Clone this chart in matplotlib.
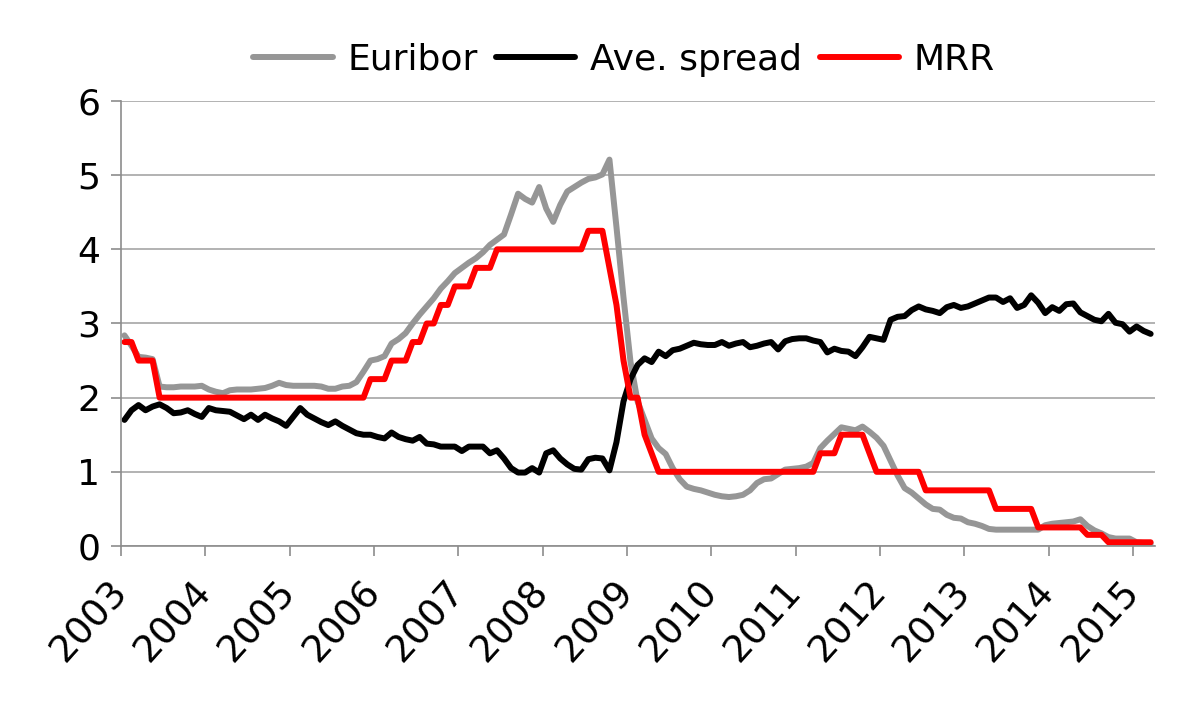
import numpy as np
import matplotlib
matplotlib.use("Agg")
import matplotlib.pyplot as plt
from matplotlib.transforms import ScaledTranslation

# monthly data, Jan 2003 .. Mar 2015
euribor = [
    2.84, 2.70, 2.55, 2.54, 2.52, 2.15, 2.14, 2.14, 2.15, 2.15, 2.15, 2.16,   # 2003
    2.11, 2.08, 2.06, 2.10, 2.11, 2.11, 2.11, 2.12, 2.13, 2.16, 2.20, 2.17,   # 2004
    2.16, 2.16, 2.16, 2.16, 2.15, 2.12, 2.12, 2.15, 2.16, 2.21, 2.35, 2.50,   # 2005
    2.52, 2.56, 2.73, 2.79, 2.87, 3.00, 3.12, 3.23, 3.34, 3.47, 3.57, 3.68,   # 2006
    3.75, 3.82, 3.88, 3.96, 4.06, 4.13, 4.20, 4.47, 4.75, 4.68, 4.63, 4.84,   # 2007
    4.55, 4.37, 4.60, 4.78, 4.84, 4.90, 4.95, 4.97, 5.01, 5.21, 4.30, 3.35,   # 2008
    2.48, 1.95, 1.70, 1.45, 1.32, 1.24, 1.05, 0.90, 0.80, 0.77, 0.75, 0.72,   # 2009
    0.69, 0.67, 0.66, 0.67, 0.69, 0.75, 0.85, 0.90, 0.91, 0.97, 1.03, 1.04,   # 2010
    1.05, 1.07, 1.12, 1.32, 1.42, 1.51, 1.60, 1.58, 1.56, 1.61, 1.54, 1.46,   # 2011
    1.35, 1.15, 0.95, 0.78, 0.72, 0.64, 0.56, 0.50, 0.49, 0.42, 0.38, 0.37,   # 2012
    0.32, 0.30, 0.27, 0.23, 0.22, 0.22, 0.22, 0.22, 0.22, 0.22, 0.22, 0.28,   # 2013
    0.30, 0.31, 0.32, 0.33, 0.36, 0.27, 0.21, 0.17, 0.12, 0.10, 0.10, 0.10,   # 2014
    0.05, 0.04, 0.03,                                                         # 2015
]
spread = [
    1.70, 1.83, 1.90, 1.83, 1.88, 1.91, 1.86, 1.79, 1.80, 1.83, 1.78, 1.74,
    1.86, 1.83, 1.82, 1.81, 1.76, 1.71, 1.77, 1.70, 1.77, 1.72, 1.68, 1.62,
    1.74, 1.86, 1.77, 1.72, 1.67, 1.63, 1.68, 1.62, 1.57, 1.52, 1.50, 1.50,
    1.47, 1.45, 1.53, 1.47, 1.44, 1.42, 1.47, 1.38, 1.37, 1.34, 1.34, 1.34,
    1.28, 1.34, 1.34, 1.34, 1.25, 1.29, 1.18, 1.05, 0.99, 0.99, 1.05, 0.99,
    1.25, 1.29, 1.18, 1.10, 1.04, 1.03, 1.17, 1.19, 1.18, 1.02, 1.40, 1.95,
    2.25, 2.44, 2.53, 2.48, 2.62, 2.56, 2.64, 2.66, 2.70, 2.74, 2.72, 2.71,
    2.71, 2.75, 2.70, 2.73, 2.75, 2.68, 2.70, 2.73, 2.75, 2.65, 2.76, 2.79,
    2.80, 2.80, 2.77, 2.75, 2.61, 2.66, 2.63, 2.62, 2.56, 2.68, 2.82, 2.80,
    2.78, 3.05, 3.09, 3.10, 3.18, 3.23, 3.19, 3.17, 3.14, 3.22, 3.25, 3.21,
    3.23, 3.27, 3.31, 3.35, 3.35, 3.29, 3.34, 3.21, 3.25, 3.38, 3.28, 3.14,
    3.22, 3.17, 3.26, 3.27, 3.15, 3.10, 3.05, 3.03, 3.13, 3.01, 2.99, 2.89,
    2.96, 2.90, 2.86,
]
mrr = [
    2.75, 2.75, 2.50, 2.50, 2.50, 2.00, 2.00, 2.00, 2.00, 2.00, 2.00, 2.00,
    2.00, 2.00, 2.00, 2.00, 2.00, 2.00, 2.00, 2.00, 2.00, 2.00, 2.00, 2.00,
    2.00, 2.00, 2.00, 2.00, 2.00, 2.00, 2.00, 2.00, 2.00, 2.00, 2.00, 2.25,
    2.25, 2.25, 2.50, 2.50, 2.50, 2.75, 2.75, 3.00, 3.00, 3.25, 3.25, 3.50,
    3.50, 3.50, 3.75, 3.75, 3.75, 4.00, 4.00, 4.00, 4.00, 4.00, 4.00, 4.00,
    4.00, 4.00, 4.00, 4.00, 4.00, 4.00, 4.25, 4.25, 4.25, 3.75, 3.25, 2.50,
    2.00, 2.00, 1.50, 1.25, 1.00, 1.00, 1.00, 1.00, 1.00, 1.00, 1.00, 1.00,
    1.00, 1.00, 1.00, 1.00, 1.00, 1.00, 1.00, 1.00, 1.00, 1.00, 1.00, 1.00,
    1.00, 1.00, 1.00, 1.25, 1.25, 1.25, 1.50, 1.50, 1.50, 1.50, 1.25, 1.00,
    1.00, 1.00, 1.00, 1.00, 1.00, 1.00, 0.75, 0.75, 0.75, 0.75, 0.75, 0.75,
    0.75, 0.75, 0.75, 0.75, 0.50, 0.50, 0.50, 0.50, 0.50, 0.50, 0.25, 0.25,
    0.25, 0.25, 0.25, 0.25, 0.25, 0.15, 0.15, 0.15, 0.05, 0.05, 0.05, 0.05,
    0.05, 0.05, 0.05,
]
years = list(range(2003, 2016))

# mid-month positions in years
t = 2003 + (np.arange(len(euribor)) + 0.5) / 12

fig = plt.figure(figsize=(12, 7.22), dpi=100)
ax = fig.add_axes([0.1008, 0.2438, 0.8617, 0.6163])

ax.plot(t, euribor, c="#969696", ls="-", lw=4.3, label="Euribor", solid_capstyle="round")
ax.plot(t, spread, c="black", ls="-", lw=4.3, label="Ave. spread", solid_capstyle="round")
ax.plot(t, mrr, c="#ff0000", ls="-", lw=4.3, label="MRR", solid_capstyle="round")

ax.set_xlim(2003, 2015.26)
ax.set_ylim(0, 6)
ax.set_yticks(range(0, 7))
ax.set_xticks(years)
ax.set_xticklabels([str(y) for y in years], rotation=48, ha="right", va="center",
                   rotation_mode="anchor", fontsize=27)
shift = ScaledTranslation(-0.08, 0, fig.dpi_scale_trans)
for lab in ax.get_xticklabels():
    lab.set_transform(lab.get_transform() + shift)

ax.yaxis.grid(True, color="#a6a6a6", lw=1.2)
ax.set_axisbelow(True)
for s in ["top", "right"]:
    ax.spines[s].set_visible(False)
for s in ["left", "bottom"]:
    ax.spines[s].set_color("#8c8c8c")
    ax.spines[s].set_linewidth(1.2)
ax.tick_params(axis="both", direction="out", length=7, width=1.2, color="#8c8c8c")
ax.tick_params(axis="y", labelsize=26, pad=8)
ax.tick_params(axis="x", pad=22)

fig.legend(loc="center", bbox_to_anchor=(0.52, 0.917), ncol=3, frameon=False,
           fontsize=26, handlelength=2.2, handletextpad=0.4, columnspacing=0.5)

fig.savefig("out.png", dpi=100)
